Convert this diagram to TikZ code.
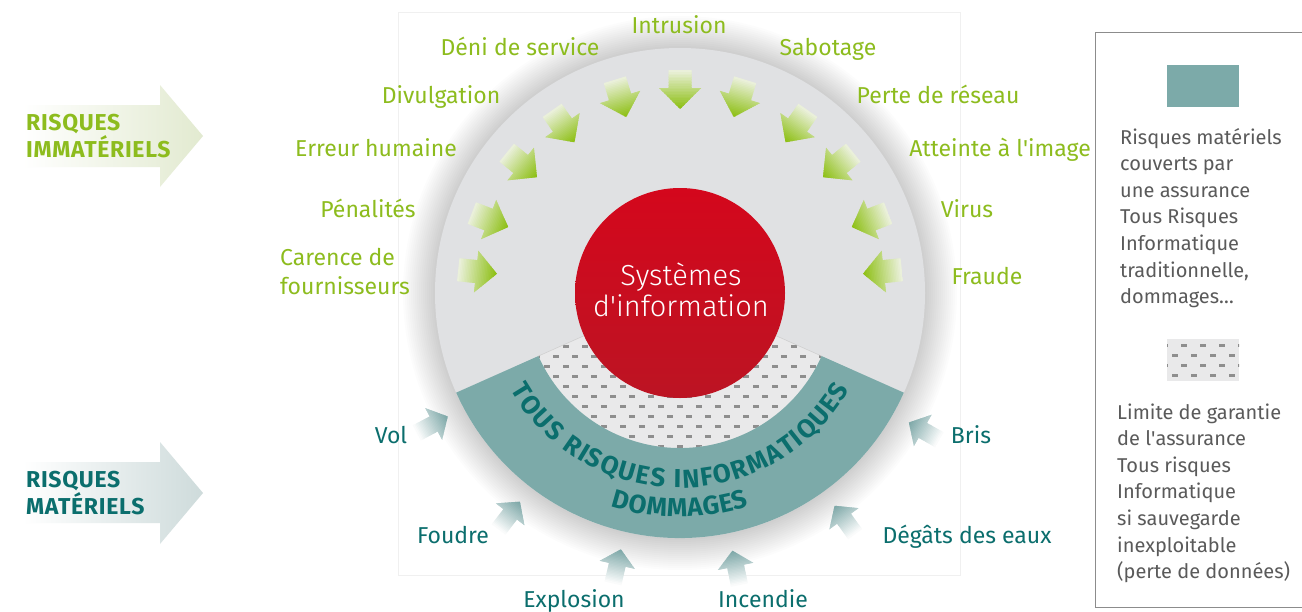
\documentclass[tikz,border=0pt]{standalone}
\usepackage{fontspec}
\setmainfont{Fira Sans}
\newfontfamily\lightf{Fira Sans Light}
\newfontfamily\sidebold{Fira Sans}[LetterSpace=3]
\usetikzlibrary{decorations.text}
\definecolor{grn}{HTML}{8DBC1E}
\definecolor{tealtxt}{HTML}{0B6E6D}
\definecolor{band}{HTML}{7CAAA9}
\definecolor{disc}{HTML}{E0E1E3}
\definecolor{dotbg}{HTML}{E9E9EA}
\definecolor{dashc}{HTML}{8E8E8E}
\definecolor{redA}{HTML}{D4071C}
\definecolor{redB}{HTML}{BC1423}
\definecolor{legtxt}{HTML}{5A5A5A}
\definecolor{gtail}{HTML}{EEF2E2}
\definecolor{gtip}{HTML}{8CBF12}
\definecolor{ttail}{HTML}{FFFFFF}
\definecolor{ttip}{HTML}{7BA6A6}
\definecolor{garrowc}{HTML}{E2EAD0}
\definecolor{tarrowc}{HTML}{CEDBDB}
\newcommand\gradarrow[8]{%
\begin{scope}[shift={(C)}, rotate=#1]
\clip (#2,0) -- (#3,#4) -- (#3,#5) -- (#6,#5) -- (#6,-#5) -- (#3,-#5) -- (#3,-#4) -- cycle;
\foreach \k in {0,...,24}{
 \pgfmathtruncatemacro\p{100-4*\k}
 \fill[#7!\p!#8] ({#2+(#6-#2)*\k/25-0.4},-30) rectangle ({#2+(#6-#2)*(\k+1)/25+0.4},30);
}
\end{scope}}
\newcommand\bandfont{\bfseries\fontsize{26}{26}\selectfont}
\tikzset{
 glabel/.style={text=grn, font=\fontsize{23}{26}\selectfont, inner sep=0pt, anchor=base},
 tlabel/.style={text=tealtxt, font=\fontsize{23}{26}\selectfont, inner sep=0pt, anchor=base},
 legtext/.style={text=legtxt, font=\fontsize{20}{22}\selectfont, inner sep=0pt, anchor=base west},
 sidetext/.style={font=\sidebold\bfseries\fontsize{23}{25}\selectfont, inner sep=0pt, anchor=base west},
 dashbit/.style={fill=dashc},
}
\begin{document}
\begin{tikzpicture}[x=1pt,y=1pt]
\useasboundingbox (0,0) rectangle (1302,-611);
\fill[white] (0,0) rectangle (1302,-611);
\draw[black!6] (398,-12) rectangle (960,-575);
\coordinate (C) at (680,-293);
% shadow
\foreach \i in {1,...,16} \fill[black,opacity=0.011] (C) circle ({245+2*\i});
% disc
\fill[disc] (C) circle (245);
% dotted sector
\fill[dotbg] (C) -- ++(-156:155) arc[start angle=-156, end angle=-24, radius=155] -- cycle;
\begin{scope}
\clip (C) -- ++(-156:155) arc[start angle=-156, end angle=-24, radius=155] -- cycle;
\foreach \r in {0,...,12}{
 \pgfmathsetmacro\off{mod(\r,2)*9.5}
 \foreach \c in {0,...,19}{
  \fill[dashbit] ({515+\off+19*\c},{-335-10*\r}) rectangle ++(6,-2.5);
 }
}
\end{scope}
\draw[black!20, line width=0.5] (C) ++(-156:100) -- ++(-156:55);
\draw[black!20, line width=0.5] (C) ++(-24:100) -- ++(-24:55);
% band
\fill[band] ([shift={(-156:155)}]C) arc[start angle=-156, end angle=-24, radius=155] -- ([shift={(-24:245)}]C) arc[start angle=-24, end angle=-156, radius=245] -- cycle;
\path[decorate, decoration={text effects along path, text={TOUS RISQUES INFORMATIQUES}, text align=center,
  text effects/.cd, text along path, character widths={inner xsep=0.8pt, font=\bandfont},
  characters={text=tealtxt, font=\bandfont, inner sep=0pt}}] ([shift={(196:195)}]C) arc[start angle=196, end angle=344, radius=195];
\path[decorate, decoration={text effects along path, text={DOMMAGES}, text align=center,
  text effects/.cd, text along path, character widths={inner xsep=0.3pt, font=\bandfont},
  characters={text=tealtxt, font=\bandfont, inner sep=0pt}}] ([shift={(225:224)}]C) arc[start angle=225, end angle=315, radius=224];
% red circle
\node[circle, minimum size=210, inner sep=0pt, top color=redA, bottom color=redB] (sys) at (C) {};
\node[text=white, font=\lightf\fontsize{29}{31}\selectfont, inner sep=0pt, anchor=base] (systxt) at (681,-285) {Systèmes};
\node[text=white, font=\lightf\fontsize{29}{31}\selectfont, inner sep=0pt, anchor=base] (systxt2) at (681,-316) {d\textquotesingle information};
% green arrows
\foreach \a in {6,21,39,55,73,90,107,125,141,159,174}{
 \gradarrow{\a}{184}{205}{21}{11.5}{223}{gtip}{gtail}
}
% teal arrows
\foreach \a in {208,232.5,257,281.5,306,330.5}{
 \gradarrow{\a}{263}{279}{18}{8.5}{298}{ttip}{ttail}
}
% green labels
\node[glabel] (l1) at (679,-33) {Intrusion};
\node[glabel] (l2) at (520,-55) {Déni de service};
\node[glabel] (l3) at (828,-55) {Sabotage};
\node[glabel] (l4) at (441,-103) {Divulgation};
\node[glabel] (l5) at (938,-103) {Perte de réseau};
\node[glabel] (l6) at (376,-156) {Erreur humaine};
\node[glabel] (l7) at (1000,-156) {Atteinte à l\textquotesingle image};
\node[glabel] (l8) at (368,-217) {Pénalités};
\node[glabel] (l9) at (967,-217) {Virus};
\node[glabel, anchor=base west] (l10) at (280,-265) {Carence de};
\node[glabel, anchor=base west] (l11) at (280,-294) {fournisseurs};
\node[glabel] (l12) at (987,-284) {Fraude};
% teal labels
\node[tlabel] (m1) at (391,-443) {Vol};
\node[tlabel] (m2) at (971,-443) {Bris};
\node[tlabel] (m3) at (453,-543) {Foudre};
\node[tlabel] (m4) at (967,-543) {Dégâts des eaux};
\node[tlabel] (m5) at (574,-607) {Explosion};
\node[tlabel] (m6) at (763,-607) {Incendie};
% side arrows
\shade[left color=white, right color=garrowc] (23,-105) -- (160,-105) -- (160,-85) -- (203,-136) -- (160,-187) -- (160,-167) -- (23,-167) -- cycle;
\node[sidetext, text=grn] (s1) at (26,-130) {RISQUES};
\node[sidetext, text=grn] (s2) at (26,-157) {IMMATÉRIELS};
\shade[left color=white, right color=tarrowc] (23,-462) -- (160,-462) -- (160,-442) -- (203,-493) -- (160,-544) -- (160,-523) -- (23,-523) -- cycle;
\node[sidetext, text=tealtxt] (s3) at (26,-487) {RISQUES};
\node[sidetext, text=tealtxt] (s4) at (26,-514) {MATÉRIELS};
% legend
\draw[black!45, line width=1] (1095,-32) rectangle (1310,-607);
\fill[band] (1167,-65) rectangle (1239,-107);
\fill[dotbg] (1167,-339) rectangle (1239,-381);
\begin{scope}
\clip (1167,-339) rectangle (1239,-381);
\foreach \r in {0,...,3}{
 \pgfmathsetmacro\off{mod(\r,2)*9.5}
 \foreach \c in {0,...,4}{
  \fill[dashbit] ({1162+\off+19*\c},{-344-10*\r}) rectangle ++(6,-2.5);
 }
}
\end{scope}
\foreach \t [count=\i] in {Risques matériels, couverts par, une assurance, Tous Risques, Informatique, {traditionnelle,}, {dommages…}}{
 \node[legtext] (la\i) at (1120,{-144-26.6*(\i-1)}) {\t};
}
\foreach \t [count=\i] in {Limite de garantie, de l\textquotesingle assurance, Tous risques, Informatique, si sauvegarde, inexploitable, (perte de données)}{
 \node[legtext] (lb\i) at (1117,{-419-26.6*(\i-1)}) {\t};
}
\end{tikzpicture}
\end{document}
